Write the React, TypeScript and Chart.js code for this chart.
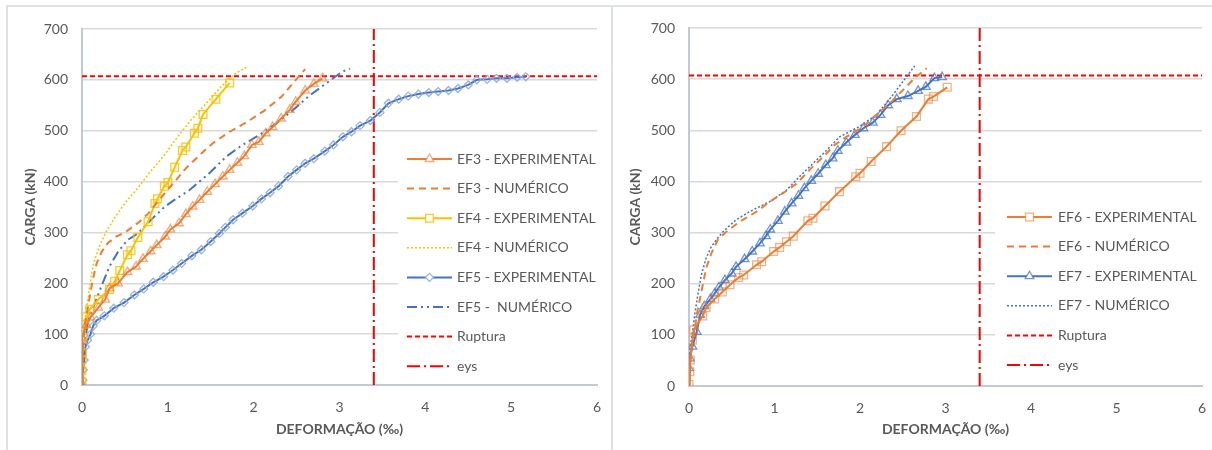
import React, { useEffect, useRef } from 'react';
import { Chart, registerables } from 'chart.js';

Chart.register(...registerables);

type Pt = [number, number];

// ---------- axes ----------
const X_MIN = 0;
const X_MAX = 6;
const X_STEP = 1;
const Y_MIN = 0;
const Y_MAX = 700;
const Y_STEP = 100;
const X_TITLE = 'DEFORMAÇÃO (‰)';
const Y_TITLE = 'CARGA (kN)';

// ---------- left chart data ----------
const EF3_EXP: Pt[] = [
  [0, 0], [0, 92], [0.05, 118], [0.1, 133], [0.19, 152], [0.27, 168], [0.32, 190], [0.42, 200],
  [0.53, 222], [0.63, 233], [0.71, 248], [0.8, 263], [0.87, 275], [0.97, 292], [1.03, 306],
  [1.13, 318], [1.21, 336], [1.29, 351], [1.37, 364], [1.46, 380], [1.55, 395], [1.64, 410],
  [1.72, 423], [1.81, 437], [1.89, 450], [1.98, 472], [2.06, 478], [2.14, 495], [2.22, 507],
  [2.32, 524], [2.42, 541], [2.49, 557], [2.6, 579], [2.7, 592], [2.8, 603],
];
const EF3_NUM: Pt[] = [
  [0, 0], [0.01, 70], [0.03, 115], [0.07, 154], [0.1, 183], [0.13, 210], [0.17, 239], [0.23, 262],
  [0.3, 279], [0.4, 292], [0.51, 301], [0.67, 321], [0.77, 337], [0.9, 364], [1.08, 400],
  [1.21, 426], [1.37, 452], [1.52, 475], [1.72, 498], [1.93, 518], [2.12, 539], [2.32, 566],
  [2.47, 596], [2.6, 621],
];
const EF4_EXP: Pt[] = [
  [0, 5], [0, 28], [0, 49], [0.005, 64], [0.01, 92], [0.03, 120], [0.05, 134], [0.09, 149],
  [0.19, 168], [0.32, 188], [0.38, 204], [0.44, 225], [0.53, 256], [0.57, 264], [0.65, 290],
  [0.77, 321], [0.85, 357], [0.88, 366], [0.96, 391], [1.0, 398], [1.08, 428], [1.17, 461],
  [1.21, 468], [1.31, 495], [1.35, 505], [1.41, 532], [1.56, 562], [1.72, 594],
];
const EF4_NUM: Pt[] = [
  [0, 0], [0.01, 70], [0.03, 115], [0.055, 154], [0.08, 180], [0.105, 213], [0.14, 242],
  [0.2, 272], [0.28, 301], [0.4, 334], [0.53, 364], [0.63, 383], [0.78, 416], [0.96, 452],
  [1.1, 485], [1.27, 521], [1.48, 560], [1.64, 590], [1.79, 613], [1.93, 626],
];
const EF5_EXP: Pt[] = [
  [0, 0], [0.01, 10], [0.015, 30], [0.025, 49], [0.04, 75], [0.065, 88], [0.1, 100], [0.13, 116],
  [0.17, 127], [0.26, 136], [0.37, 151], [0.49, 162], [0.61, 177], [0.72, 189], [0.83, 202],
  [0.95, 213], [1.06, 226], [1.16, 239], [1.28, 254], [1.39, 266], [1.5, 282], [1.6, 298],
  [1.67, 310], [1.76, 325], [1.87, 338], [1.99, 352], [2.09, 366], [2.19, 378], [2.29, 391],
  [2.4, 410], [2.5, 423], [2.6, 436], [2.7, 445], [2.83, 460], [2.93, 472], [3.04, 488],
  [3.14, 498], [3.24, 510], [3.36, 520], [3.47, 536], [3.57, 554], [3.69, 562], [3.8, 568],
  [3.92, 572], [4.04, 575], [4.15, 577], [4.27, 579], [4.38, 583], [4.5, 590], [4.6, 600],
  [4.72, 601], [4.83, 603], [4.95, 603], [5.07, 605], [5.17, 606],
];
const EF5_NUM: Pt[] = [
  [0, 0], [0.03, 80], [0.07, 125], [0.12, 147], [0.18, 174], [0.24, 200], [0.32, 233],
  [0.42, 262], [0.53, 285], [0.65, 298], [0.8, 324], [0.96, 350], [1.06, 362], [1.25, 383],
  [1.48, 416], [1.68, 449], [1.87, 472], [2.07, 492], [2.26, 514], [2.46, 541], [2.65, 569],
  [2.82, 590], [2.95, 606], [3.03, 616], [3.12, 622],
];

// ---------- right chart data ----------
const EF6_EXP: Pt[] = [
  [0, 3], [0.01, 28], [0.015, 51], [0.04, 90], [0.055, 110], [0.16, 137], [0.2, 153], [0.3, 170],
  [0.39, 184], [0.48, 198], [0.58, 212], [0.64, 217], [0.79, 237], [0.85, 243], [0.99, 263],
  [1.06, 271], [1.14, 282], [1.22, 293], [1.39, 323], [1.45, 328], [1.59, 352], [1.76, 380],
  [1.95, 409], [2.0, 416], [2.13, 439], [2.31, 468], [2.48, 499], [2.66, 527], [2.8, 561],
  [2.86, 566], [3.02, 584],
];
const EF6_NUM: Pt[] = [
  [0, 0], [0.03, 77], [0.07, 113], [0.09, 139], [0.125, 168], [0.165, 201], [0.2, 230],
  [0.26, 259], [0.34, 287], [0.44, 302], [0.59, 321], [0.79, 341], [0.96, 362], [1.1, 377],
  [1.26, 396], [1.43, 426], [1.57, 448], [1.7, 471], [1.84, 487], [2.04, 507], [2.19, 530],
  [2.37, 556], [2.58, 592], [2.66, 605], [2.78, 621],
];
const EF7_EXP: Pt[] = [
  [0, 35], [0.01, 54], [0.04, 77], [0.09, 106], [0.13, 139], [0.18, 156], [0.25, 170], [0.3, 181],
  [0.35, 193], [0.42, 207], [0.5, 220], [0.55, 233], [0.65, 248], [0.74, 263], [0.83, 279],
  [0.9, 293], [0.95, 306], [1.04, 323], [1.12, 341], [1.2, 357], [1.28, 372], [1.35, 387],
  [1.43, 401], [1.51, 415], [1.6, 432], [1.68, 445], [1.74, 460], [1.84, 476], [1.94, 491],
  [2.04, 504], [2.15, 515], [2.24, 530], [2.33, 549], [2.43, 561], [2.56, 567], [2.68, 577],
  [2.77, 585], [2.87, 602], [2.96, 604],
];
const EF7_NUM: Pt[] = [
  [0, 0], [0.015, 77], [0.047, 113], [0.066, 139], [0.105, 181], [0.144, 217], [0.2, 250],
  [0.26, 272], [0.32, 286], [0.4, 302], [0.55, 325], [0.71, 341], [0.96, 362], [1.14, 383],
  [1.29, 409], [1.45, 435], [1.61, 461], [1.76, 487], [2.0, 508], [2.19, 530], [2.37, 566],
  [2.5, 595], [2.64, 626],
];

// ---------- reference lines ----------
const RUPTURA: Pt[] = [[0, 607], [6, 607]];
const EYS: Pt[] = [[3.4, 0], [3.4, 700]];

const LEFT_LABELS = [
  'EF3 - EXPERIMENTAL', 'EF3 - NUMÉRICO', 'EF4 - EXPERIMENTAL', 'EF4 - NUMÉRICO',
  'EF5 - EXPERIMENTAL', 'EF5 -  NUMÉRICO', 'Ruptura', 'eys',
];
const RIGHT_LABELS = [
  'EF6 - EXPERIMENTAL', 'EF6 - NUMÉRICO', 'EF7 - EXPERIMENTAL', 'EF7 - NUMÉRICO', 'Ruptura', 'eys',
];

// ---------- styles ----------
const ORANGE = '#ED7D31';
const YELLOW = '#FFC000';
const BLUE = '#4472C4';
const RED = '#FF0000';
const TEXT = '#595959';
const GRID = '#D9D9D9';
const AXIS = '#C3C9D2';
const FRAME = '#DEE1E6';
const FONT = 'Lato';

interface Style {
  color: string;
  width: number;
  dash: number[];
  point?: string;
  pointColor?: string;
  radius?: number;
}

const ST_ORANGE_TRI: Style = { color: ORANGE, width: 2, dash: [], point: 'triangle', pointColor: 'rgba(237,125,49,0.65)', radius: 5 };
const ST_ORANGE_SQ: Style = { color: ORANGE, width: 2, dash: [], point: 'rect', pointColor: 'rgba(237,125,49,0.6)', radius: 5.5 };
const ST_ORANGE_DASH: Style = { color: ORANGE, width: 2, dash: [7, 5] };
const ST_YELLOW_SQ: Style = { color: YELLOW, width: 2, dash: [], point: 'rect', pointColor: 'rgba(255,192,0,0.85)', radius: 5.5 };
const ST_YELLOW_DOT: Style = { color: YELLOW, width: 1.5, dash: [2, 2] };
const ST_BLUE_DIAM: Style = { color: BLUE, width: 2, dash: [], point: 'rectRot', pointColor: 'rgba(143,170,220,0.9)', radius: 4 };
const ST_BLUE_TRI: Style = { color: BLUE, width: 2, dash: [], point: 'triangle', pointColor: 'rgba(68,114,196,0.75)', radius: 5 };
const ST_BLUE_DDOT: Style = { color: BLUE, width: 2, dash: [10, 4, 2, 4, 2, 4] };
const ST_BLUE_DOT: Style = { color: BLUE, width: 1.5, dash: [2, 2] };
const ST_RUPT: Style = { color: RED, width: 2, dash: [5, 3] };
const ST_EYS: Style = { color: RED, width: 2, dash: [13, 4, 2, 4] };

function makeDataset(label: string, data: Pt[], st: Style) {
  return {
    label,
    data: data.map(([x, y]) => ({ x, y })),
    showLine: true,
    borderColor: st.color,
    backgroundColor: st.color,
    borderWidth: st.width,
    borderDash: st.dash,
    pointStyle: st.point || 'circle',
    pointRadius: st.point ? st.radius : 0,
    pointBorderColor: st.pointColor || st.color,
    pointBackgroundColor: 'rgba(0,0,0,0)',
    pointBorderWidth: 1.3,
    tension: 0,
    fill: false,
  };
}

function drawMarker(ctx: CanvasRenderingContext2D, style: string, x: number, y: number, r: number) {
  ctx.beginPath();
  if (style === 'triangle') {
    for (let i = 0; i < 3; i++) {
      const a = (i * 2 * Math.PI) / 3;
      const px = x + Math.sin(a) * r;
      const py = y - Math.cos(a) * r;
      if (i === 0) ctx.moveTo(px, py);
      else ctx.lineTo(px, py);
    }
    ctx.closePath();
  } else if (style === 'rect') {
    const s = Math.SQRT1_2 * r;
    ctx.rect(x - s, y - s, 2 * s, 2 * s);
  } else if (style === 'rectRot') {
    ctx.moveTo(x - r, y);
    ctx.lineTo(x, y - r);
    ctx.lineTo(x + r, y);
    ctx.lineTo(x, y + r);
    ctx.closePath();
  }
  ctx.fillStyle = '#FFFFFF';
  ctx.fill();
  ctx.stroke();
}

const boxLegend = {
  id: 'boxLegend',
  afterDatasetsDraw(chart: any, _args: any, opts: any) {
    const ctx: CanvasRenderingContext2D = chart.ctx;
    const { box, x1, x2, textX, y0, step } = opts;
    ctx.save();
    ctx.fillStyle = '#FFFFFF';
    ctx.fillRect(box[0], box[1], box[2] - box[0], box[3] - box[1]);
    chart.data.datasets.forEach((d: any, i: number) => {
      const y = y0 + i * step;
      ctx.setLineDash(d.borderDash || []);
      ctx.lineWidth = d.borderWidth;
      ctx.strokeStyle = d.borderColor;
      ctx.beginPath();
      ctx.moveTo(x1, y);
      ctx.lineTo(x2, y);
      ctx.stroke();
      ctx.setLineDash([]);
      if (d.pointRadius > 0) {
        ctx.lineWidth = d.pointBorderWidth;
        ctx.strokeStyle = d.pointBorderColor;
        drawMarker(ctx, d.pointStyle, (x1 + x2) / 2, y, d.pointRadius);
      }
      ctx.fillStyle = TEXT;
      ctx.font = `14px ${FONT}`;
      ctx.textAlign = 'left';
      ctx.textBaseline = 'middle';
      ctx.fillText(d.label, textX, y);
    });
    ctx.restore();
  },
};

interface Layout {
  top: number;
  right: number;
  yW: number;
  xH: number;
  yTitlePad: number;
  legend: { box: number[]; x1: number; x2: number; textX: number; y0: number; step: number };
}

function buildConfig(datasets: any[], lay: Layout): any {
  const tickFont = { family: FONT, size: 14 };
  const titleFont = { family: FONT, size: 14, weight: 'bold' };
  return {
    type: 'scatter',
    data: { datasets },
    plugins: [boxLegend],
    options: {
      responsive: false,
      animation: false,
      devicePixelRatio: 1,
      events: [],
      layout: { autoPadding: false, padding: { top: lay.top, right: lay.right, left: 0, bottom: 0 } },
      plugins: {
        legend: { display: false },
        tooltip: { enabled: false },
        boxLegend: lay.legend,
      },
      scales: {
        x: {
          type: 'linear',
          min: X_MIN,
          max: X_MAX,
          ticks: { stepSize: X_STEP, padding: 14, color: TEXT, font: tickFont, maxRotation: 0 },
          grid: { display: false, drawTicks: false },
          border: { display: true, color: AXIS, width: 2 },
          title: { display: true, text: X_TITLE, color: TEXT, font: titleFont, padding: { top: 0, bottom: 12 } },
          afterFit: (s: any) => {
            s.height = lay.xH;
            s.paddingLeft = 0;
            s.paddingRight = 0;
          },
        },
        y: {
          type: 'linear',
          min: Y_MIN,
          max: Y_MAX,
          ticks: { stepSize: Y_STEP, padding: 14, color: TEXT, font: tickFont },
          grid: { color: GRID, lineWidth: 1.5, drawTicks: false },
          border: { display: true, color: AXIS, width: 2 },
          title: { display: true, text: Y_TITLE, color: TEXT, font: titleFont, padding: { top: lay.yTitlePad, bottom: 0 } },
          afterFit: (s: any) => {
            s.width = lay.yW;
            s.paddingTop = 0;
            s.paddingBottom = 0;
          },
        },
      },
    },
  };
}

const LEFT_LAYOUT: Layout = {
  top: 29, right: 9, yW: 82, xH: 65, yTitlePad: 22,
  legend: { box: [398, 140, 597, 381], x1: 407, x2: 452, textX: 457, y0: 159, step: 29.6 },
};
const RIGHT_LAYOUT: Layout = {
  top: 28, right: 10, yW: 83, xH: 64, yTitlePad: 21,
  legend: { box: [389, 196, 596, 381], x1: 401, x2: 446, textX: 452, y0: 217, step: 29.6 },
};

function leftDatasets() {
  const st = [ST_ORANGE_TRI, ST_ORANGE_DASH, ST_YELLOW_SQ, ST_YELLOW_DOT, ST_BLUE_DIAM, ST_BLUE_DDOT, ST_RUPT, ST_EYS];
  const data = [EF3_EXP, EF3_NUM, EF4_EXP, EF4_NUM, EF5_EXP, EF5_NUM, RUPTURA, EYS];
  return LEFT_LABELS.map((l, i) => makeDataset(l, data[i], st[i]));
}
function rightDatasets() {
  const st = [ST_ORANGE_SQ, ST_ORANGE_DASH, ST_BLUE_TRI, ST_BLUE_DOT, ST_RUPT, ST_EYS];
  const data = [EF6_EXP, EF6_NUM, EF7_EXP, EF7_NUM, RUPTURA, EYS];
  return RIGHT_LABELS.map((l, i) => makeDataset(l, data[i], st[i]));
}

function ChartPanel({ left, makeData, layout }: { left: number; makeData: () => any[]; layout: Layout }) {
  const ref = useRef<HTMLCanvasElement>(null);
  useEffect(() => {
    if (!ref.current) return;
    const chart = new Chart(ref.current, buildConfig(makeData(), layout));
    return () => chart.destroy();
  }, []);
  return (
    <canvas
      ref={ref}
      width={606}
      height={450}
      style={{ position: 'absolute', left, top: 0, width: 606, height: 450 }}
    />
  );
}

export default function App() {
  return (
    <div style={{ position: 'fixed', left: 0, top: 0, width: 1212, height: 450, background: '#FFFFFF', overflow: 'hidden' }}>
      <ChartPanel left={0} makeData={leftDatasets} layout={LEFT_LAYOUT} />
      <ChartPanel left={606} makeData={rightDatasets} layout={RIGHT_LAYOUT} />
      <div style={{ position: 'absolute', left: 7, top: 5, width: 1205, height: 2, background: FRAME }} />
      <div style={{ position: 'absolute', left: 6, top: 5, width: 2, height: 445, background: FRAME }} />
      <div style={{ position: 'absolute', left: 611, top: 5, width: 2, height: 445, background: FRAME }} />
    </div>
  );
}
